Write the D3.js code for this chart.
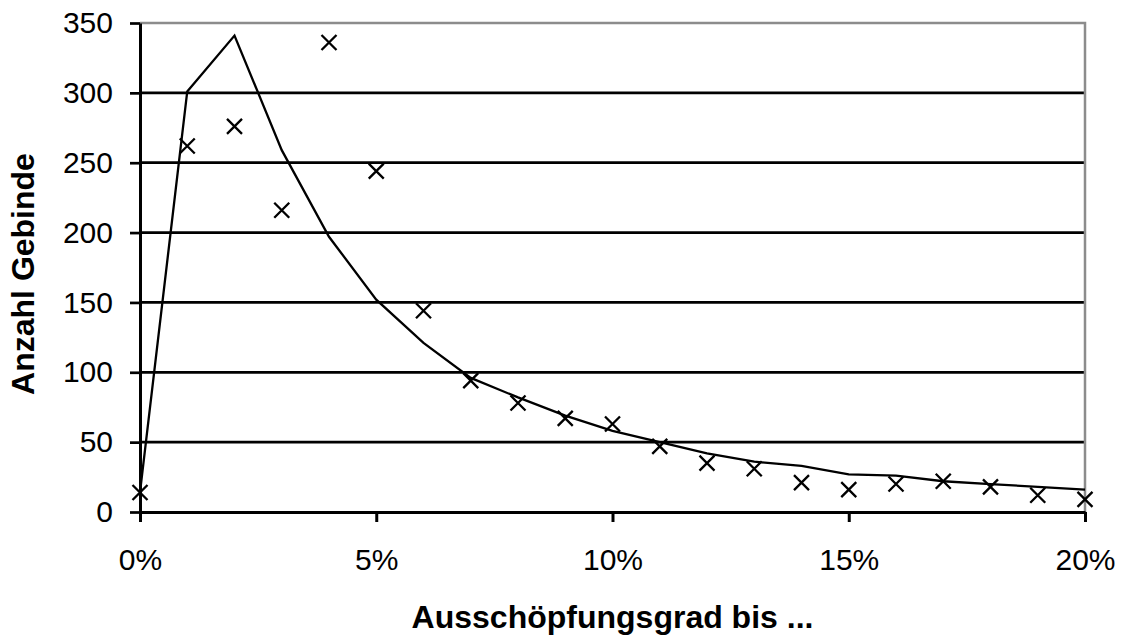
<!DOCTYPE html>
<html>
<head>
<meta charset="utf-8">
<script src="https://cdn.jsdelivr.net/npm/d3@7"></script>
<style>
  html, body { margin: 0; padding: 0; background: #fff; }
  svg { display: block; font-family: "Liberation Sans", Arial, sans-serif; }
</style>
</head>
<body>
<svg id="chart" width="1123" height="637"></svg>
<script>
// Ausschöpfungsgrad in Prozent (x positions)
const grade = [0, 1, 2, 3, 4, 5, 6, 7, 8, 9, 10, 11, 12, 13, 14, 15, 16, 17, 18, 19, 20];
// Beobachtete Anzahl Gebinde (Kreuze)
const observed = [14, 262, 276, 216, 336, 244, 144, 94, 78, 67, 63, 47, 35, 31, 21, 16, 20, 22, 18, 12, 9];
// Angepasste Verteilung (Linie)
const fitted = [14, 301, 341, 259, 197, 152, 121, 96, 82, 69, 58, 50, 42, 36, 33, 27, 26, 22, 20, 18, 16];
// Achsenbeschriftungen
const yTicks = [0, 50, 100, 150, 200, 250, 300, 350];
const xTicks = [0, 5, 10, 15, 20];
const xTitle = "Ausschöpfungsgrad bis ...";
const yTitle = "Anzahl Gebinde";

const svg = d3.select("#chart");
const margin = { left: 140, right: 1085, top: 23, bottom: 512 };

const x = d3.scaleLinear().domain([0, 20]).range([margin.left, margin.right]);
const y = d3.scaleLinear().domain([0, 350]).range([margin.bottom, margin.top]);

// horizontal gridlines
svg.append("g")
  .selectAll("line")
  .data(yTicks.filter(d => d > 0 && d < 350))
  .join("line")
  .attr("x1", margin.left).attr("x2", margin.right)
  .attr("y1", d => y(d)).attr("y2", d => y(d))
  .attr("stroke", "#000").attr("stroke-width", 2.7);

// plot frame (top and right, grey)
svg.append("path")
  .attr("d", `M${margin.left},${y(350)}H${margin.right}V${margin.bottom}`)
  .attr("fill", "none").attr("stroke", "#8c8c8c").attr("stroke-width", 2.5);

// y axis
const yAxis = svg.append("g")
  .attr("transform", `translate(${margin.left},0)`)
  .call(d3.axisLeft(y).tickValues(yTicks).tickSize(10).tickPadding(17).tickSizeOuter(0));
yAxis.select(".domain").attr("stroke-width", 3);
yAxis.selectAll(".tick line").attr("stroke-width", 2.7);
yAxis.selectAll(".tick text")
  .attr("font-size", 30).attr("fill", "#000")
  .attr("font-family", "Liberation Sans, Arial, sans-serif");

// x axis
const xAxis = svg.append("g")
  .attr("transform", `translate(0,${margin.bottom})`)
  .call(d3.axisBottom(x).tickValues(xTicks).tickFormat(d => d + "%")
    .tickSize(10).tickPadding(27).tickSizeOuter(0));
xAxis.select(".domain").attr("stroke-width", 3);
xAxis.selectAll(".tick line").attr("stroke-width", 3);
xAxis.selectAll(".tick text")
  .attr("font-size", 30).attr("fill", "#000")
  .attr("font-family", "Liberation Sans, Arial, sans-serif");

// fitted line
const line = d3.line().x((d, i) => x(grade[i])).y(d => y(d));
svg.append("path")
  .datum(fitted)
  .attr("d", line)
  .attr("fill", "none").attr("stroke", "#000").attr("stroke-width", 2.3)
  .attr("stroke-linejoin", "miter");

// observed crosses
const s = 7.5;
svg.append("g")
  .selectAll("path")
  .data(observed)
  .join("path")
  .attr("d", (d, i) => {
    const cx = x(grade[i]), cy = y(d);
    return `M${cx - s},${cy - s}L${cx + s},${cy + s}M${cx - s},${cy + s}L${cx + s},${cy - s}`;
  })
  .attr("stroke", "#000").attr("stroke-width", 2.3).attr("fill", "none");

// axis titles
svg.append("text")
  .attr("x", (margin.left + margin.right) / 2)
  .attr("y", 628)
  .attr("text-anchor", "middle")
  .attr("font-size", 32).attr("font-weight", "bold")
  .text(xTitle);

svg.append("text")
  .attr("transform", `translate(34,274) rotate(-90)`)
  .attr("text-anchor", "middle")
  .attr("font-size", 32).attr("font-weight", "bold")
  .text(yTitle);
</script>
</body>
</html>
